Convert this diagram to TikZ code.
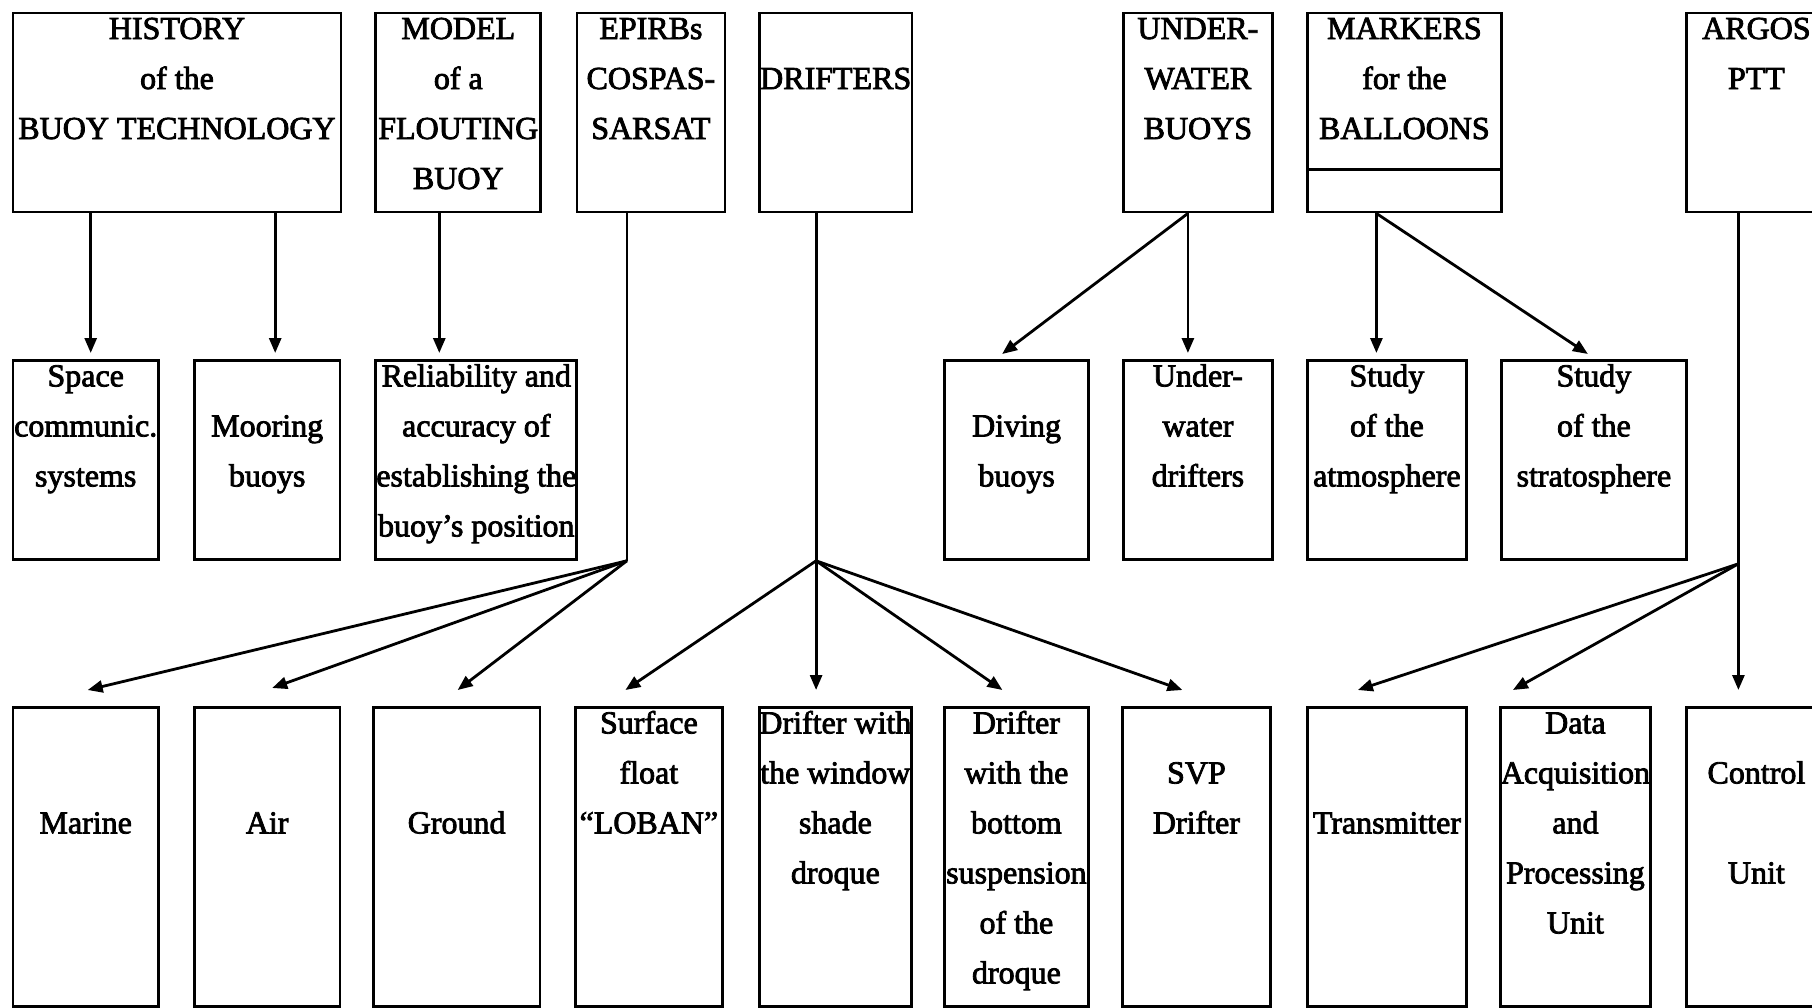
\documentclass[tikz,border=0pt]{standalone}
\usepackage{fontspec}
\setmainfont[FakeBold=2.5]{Liberation Serif}
\usetikzlibrary{arrows.meta}
\newcommand{\bstr}{\rule[-23pt]{0pt}{49pt}}

\begin{document}
\begin{tikzpicture}[x=1pt,y=1pt,yscale=-1,xscale=1,
  box/.style={draw, line width=2.8pt, anchor=north west, align=center, inner sep=0pt,
    font=\fontsize{32}{50}\selectfont},
  toprow/.style={box, minimum height=199pt},
  midrow/.style={box, minimum height=199pt},
  lowrow/.style={box, minimum height=299pt},
  trunk/.style={line width=2.8pt},
  arr/.style={trunk, -{Triangle[length=15pt,width=12pt]}}]
\useasboundingbox (0,0) rectangle (1812,1007);

%Top row
\node[toprow, minimum width=328pt] (history) at (11.6,11.6) {\bstr HISTORY\\\bstr of the\\\bstr BUOY TECHNOLOGY\\\bstr};
\node[toprow, minimum width=165pt] (model) at (374.4,11.6) {\bstr MODEL\\\bstr of a\\\bstr FLOUTING\\\bstr BUOY};
\node[toprow, minimum width=148pt] (epirbs) at (575.5,11.6) {\bstr EPIRBs\\\bstr COSPAS-\\\bstr SARSAT\\\bstr};
\node[toprow, minimum width=152.6pt] (drifters) at (758,11.6) {\bstr\\\bstr DRIFTERS\\\bstr\\\bstr};
\node[toprow, minimum width=149pt] (under) at (1122,11.6) {\bstr UNDER-\\\bstr WATER\\\bstr BUOYS\\\bstr};
\node[toprow, minimum width=194pt] (markers) at (1306,11.6) {\bstr MARKERS\\\bstr for the\\\bstr BALLOONS\\\bstr};
\node[toprow, minimum width=140pt] (argos) at (1685,11.6) {\bstr ARGOS\\\bstr PTT\\\bstr\\\bstr};
\draw[trunk] ([yshift=-44pt]markers.south west) -- ([yshift=-44pt]markers.south east);

%Middle row
\node[midrow, minimum width=145.4pt] (space) at (11.6,359) {\bstr Space\\\bstr communic.\\\bstr systems\\\bstr};
\node[midrow, minimum width=145.6pt] (mooring) at (193,359) {\bstr\\\bstr Mooring\\\bstr buoys\\\bstr};
\node[midrow, minimum width=201pt] (reliab) at (374.4,359) {\bstr Reliability and\\\bstr accuracy of\\\bstr establishing the\\\bstr buoy’s position};
\node[midrow, minimum width=144.4pt] (diving) at (943,359) {\bstr\\\bstr Diving\\\bstr buoys\\\bstr};
\node[midrow, minimum width=149pt] (uwdrift) at (1122,359) {\bstr Under-\\\bstr water\\\bstr drifters\\\bstr};
\node[midrow, minimum width=159pt] (atmos) at (1306,359) {\bstr Study\\\bstr of the\\\bstr atmosphere\\\bstr};
\node[midrow, minimum width=185pt] (strato) at (1500,359) {\bstr Study\\\bstr of the\\\bstr stratosphere\\\bstr};

%Bottom row
\node[lowrow, minimum width=145.4pt] (marine) at (11.6,706) {\bstr\\\bstr\\\bstr Marine\\\bstr\\\bstr\\\bstr};
\node[lowrow, minimum width=145.6pt] (air) at (193,706) {\bstr\\\bstr\\\bstr Air\\\bstr\\\bstr\\\bstr};
\node[lowrow, minimum width=166.5pt] (ground) at (372,706) {\bstr\\\bstr\\\bstr Ground\\\bstr\\\bstr\\\bstr};
\node[lowrow, minimum width=147pt] (surface) at (574,706) {\bstr Surface\\\bstr float\\\bstr “LOBAN”\\\bstr\\\bstr\\\bstr};
\node[lowrow, minimum width=150pt] (window) at (758,706) {\bstr Drifter with\\\bstr the window\\\bstr shade\\\bstr droque\\\bstr\\\bstr};
\node[lowrow, minimum width=144pt] (bottomd) at (943,706) {\bstr Drifter\\\bstr with the\\\bstr bottom\\\bstr suspension\\\bstr of the\\\bstr droque};
\node[lowrow, minimum width=148pt] (svp) at (1121,706) {\bstr\\\bstr SVP\\\bstr Drifter\\\bstr\\\bstr\\\bstr};
\node[lowrow, minimum width=159pt] (trans) at (1306,706) {\bstr\\\bstr\\\bstr Transmitter\\\bstr\\\bstr\\\bstr};
\node[lowrow, minimum width=150pt] (dataacq) at (1499,706) {\bstr Data\\\bstr Acquisition\\\bstr and\\\bstr Processing\\\bstr Unit\\\bstr};
\node[lowrow, minimum width=140pt] (control) at (1685,706) {\bstr\\\bstr Control\\\bstr\\\bstr Unit\\\bstr\\\bstr};

%Branch points
\coordinate (ej) at ([xshift=-24pt]epirbs.south |- space.south);
\coordinate (dj) at ([xshift=-19.6pt]drifters.south |- space.south);
\coordinate (aj) at ([xshift=-18pt,yshift=3pt]argos.south |- strato.south);

%Arrows top to middle
\draw[arr, shorten >=6pt] ([xshift=5pt]history.south -| space.north) -- ([xshift=5pt]space.north);
\draw[arr, shorten >=6pt] ([xshift=8pt]history.south -| mooring.north) -- ([xshift=8pt]mooring.north);
\draw[arr, shorten >=6pt] ([xshift=-37pt]reliab.north |- model.south) -- ([xshift=-37pt]reliab.north);
\draw[arr] ([xshift=-10pt]under.south) -- ([xshift=-14.5pt,yshift=-5pt]diving.north);
\draw[arr, shorten >=6pt] ([xshift=-10pt]under.south) -- ([xshift=-10pt]uwdrift.north);
\draw[arr, shorten >=6pt] ([xshift=-10.5pt]atmos.north |- markers.south) -- ([xshift=-10.5pt]atmos.north);
\draw[arr] ([xshift=-10.5pt]atmos.north |- markers.south) -- ([xshift=-6pt,yshift=-5pt]strato.north);

%EPIRBs branch
\draw[trunk] ([xshift=-24pt]epirbs.south) -- (ej);
\draw[arr] (ej) -- ([xshift=2pt,yshift=-16pt]marine.north);
\draw[arr] (ej) -- ([xshift=5pt,yshift=-18pt]air.north);
\draw[arr] (ej) -- ([xshift=1pt,yshift=-16pt]ground.north);

%DRIFTERS branch
\draw[trunk] ([xshift=-19.6pt]drifters.south) -- (dj);
\draw[arr] (dj) -- ([xshift=-23.5pt,yshift=-16pt]surface.north);
\draw[arr, shorten >=16pt] (dj) -- (dj |- window.north);
\draw[arr] (dj) -- ([xshift=-14pt,yshift=-16pt]bottomd.north);
\draw[arr] (dj) -- ([xshift=-14pt,yshift=-16pt]svp.north);

%ARGOS branch
\draw[trunk] ([xshift=-18pt]argos.south) -- (aj);
\draw[arr] (aj) -- ([xshift=-29pt,yshift=-16pt]trans.north);
\draw[arr] (aj) -- ([xshift=-62.5pt,yshift=-16pt]dataacq.north);
\draw[arr, shorten >=16pt] (aj) -- (aj |- control.north);

\end{tikzpicture}
\end{document}
